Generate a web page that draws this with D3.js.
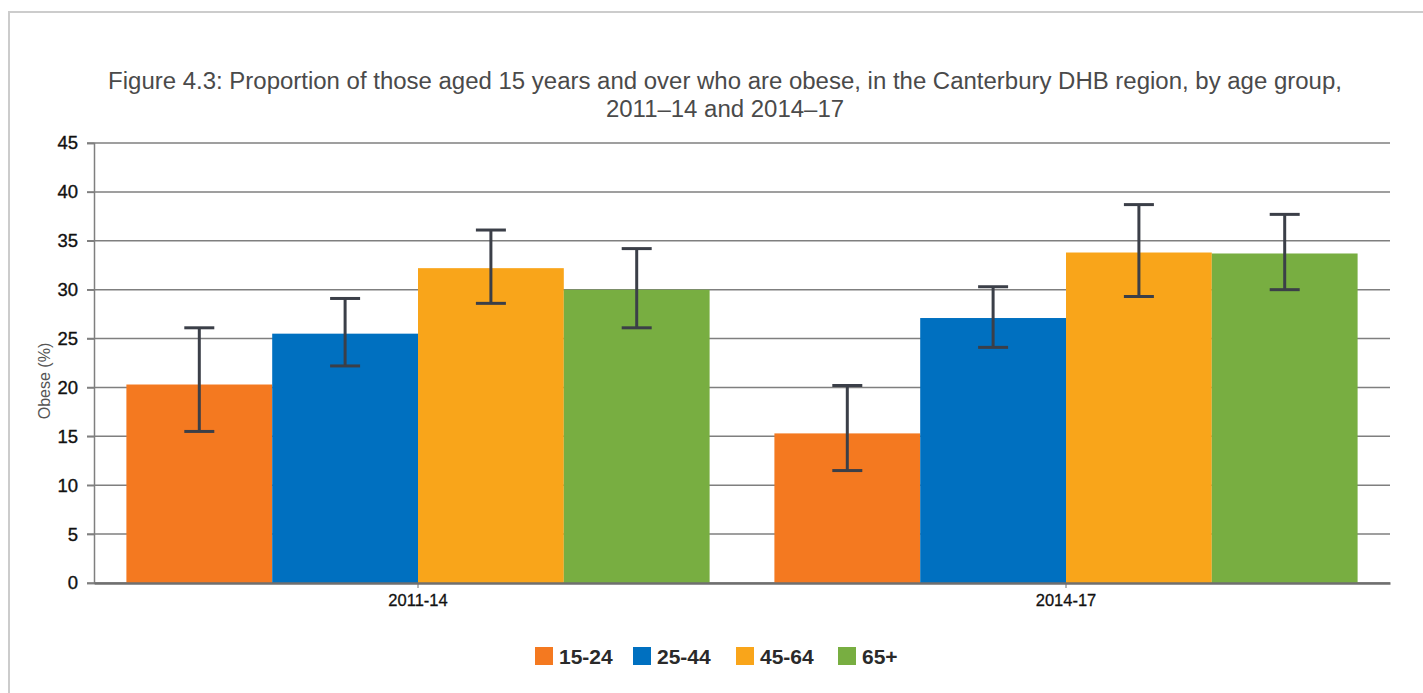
<!DOCTYPE html>
<html>
<head>
<meta charset="utf-8">
<script src="https://cdn.jsdelivr.net/npm/d3@7"></script>
<style>
  html, body { margin: 0; padding: 0; background: #fff; }
  svg { display: block; font-family: "Liberation Sans", Arial, sans-serif; }
</style>
</head>
<body>
<svg id="chart" width="1423" height="693"></svg>
<script>
const periods = ["2011-14", "2014-17"];
const ageGroups = ["15-24", "25-44", "45-64", "65+"];
const values2011 = [20.3, 25.5, 32.2, 30.0];
const values2014 = [15.3, 27.1, 33.8, 33.7];
const lower2011 = [15.5, 22.2, 28.6, 26.1];
const upper2011 = [26.1, 29.1, 36.1, 34.2];
const lower2014 = [11.5, 24.1, 29.3, 30.0];
const upper2014 = [20.2, 30.3, 38.7, 37.7];
const yTicks = [0, 5, 10, 15, 20, 25, 30, 35, 40, 45];
const colors = ["#f47920", "#0070c0", "#f9a51a", "#78ae41"];
const titleLines = ["Figure 4.3: Proportion of those aged 15 years and over who are obese, in the Canterbury DHB region, by age group,", "2011\u201314 and 2014\u201317"];
const yTitle = "Obese (%)";

const rows = [
  { period: periods[0], vals: values2011, lo: lower2011, hi: upper2011 },
  { period: periods[1], vals: values2014, lo: lower2014, hi: upper2014 }
];

const svg = d3.select("#chart");

// outer border
svg.append("rect").attr("x", 9).attr("y", 12).attr("width", 1430).attr("height", 700)
  .attr("fill", "none").attr("stroke", "#cccccc").attr("stroke-width", 2);

const pLeft = 94, pRight = 1390, pTop = 143, pBottom = 583;

const x0 = d3.scaleBand().domain(periods).range([pLeft, pRight]).paddingInner(0.1).paddingOuter(0.05);
const x1 = d3.scaleBand().domain(ageGroups).range([0, x0.bandwidth()]).padding(0);
const y = d3.scaleLinear().domain([0, 45]).range([pBottom, pTop]);
const color = d3.scaleOrdinal().domain(ageGroups).range(colors);

// title
const title = svg.append("text").attr("x", 725).attr("text-anchor", "middle")
  .attr("fill", "#4a4a4a").style("font-size", "21px");
title.selectAll("tspan").data(titleLines).join("tspan")
  .attr("x", 725).attr("y", (d, i) => 89 + i * 28).text(d => d);
const w = title.select("tspan").node().getComputedTextLength();
title.style("font-size", (21 * 1234 / w).toFixed(2) + "px");

// gridlines
svg.append("g").selectAll("line").data(yTicks).join("line")
  .attr("x1", pLeft - 7).attr("x2", pRight)
  .attr("y1", d => y(d)).attr("y2", d => y(d))
  .attr("stroke", "#7f7f7f").attr("stroke-width", 1.5);

// y axis
const yAxis = svg.append("g").attr("transform", `translate(${pLeft},0)`)
  .call(d3.axisLeft(y).tickValues(yTicks).tickSize(7).tickPadding(9));
yAxis.select(".domain").attr("stroke", "#7f7f7f").attr("stroke-width", 1.5);
yAxis.selectAll(".tick line").attr("stroke", "#7f7f7f").attr("stroke-width", 1.5);
yAxis.selectAll(".tick text").attr("fill", "#111").attr("font-size", null).style("font-size", "18.5px")
  .attr("stroke", "#111").attr("stroke-width", 0.35)
  .attr("font-family", null).style("font-family", "'Liberation Sans', Arial, sans-serif");

// y title
svg.append("text").attr("transform", "translate(50,381) rotate(-90)")
  .attr("text-anchor", "middle").attr("fill", "#555").style("font-size", "16px")
  .text(yTitle);

// bars
const groups = svg.append("g").selectAll("g").data(rows).join("g")
  .attr("transform", d => `translate(${x0(d.period)},0)`);
groups.selectAll("rect").data(d => ageGroups.map((a, i) => ({ a, v: d.vals[i] }))).join("rect")
  .attr("x", d => x1(d.a)).attr("width", x1.bandwidth())
  .attr("y", d => y(d.v)).attr("height", d => y(0) - y(d.v))
  .attr("fill", d => color(d.a));

// error bars
const eb = groups.selectAll("g.eb").data(d => ageGroups.map((a, i) => ({ a, lo: d.lo[i], hi: d.hi[i] }))).join("g")
  .attr("class", "eb")
  .attr("transform", d => `translate(${x1(d.a) + x1.bandwidth() / 2},0)`);
const ebColor = "#3b3f48";
eb.append("line").attr("x1", 0).attr("x2", 0).attr("y1", d => y(d.hi)).attr("y2", d => y(d.lo))
  .attr("stroke", ebColor).attr("stroke-width", 3);
eb.append("line").attr("x1", -15).attr("x2", 15).attr("y1", d => y(d.hi)).attr("y2", d => y(d.hi))
  .attr("stroke", ebColor).attr("stroke-width", 3);
eb.append("line").attr("x1", -15).attr("x2", 15).attr("y1", d => y(d.lo)).attr("y2", d => y(d.lo))
  .attr("stroke", ebColor).attr("stroke-width", 3);

// x axis
const xAxis = svg.append("g").attr("transform", `translate(0,${pBottom})`)
  .call(d3.axisBottom(x0).tickSize(5).tickPadding(6).tickSizeOuter(0));
xAxis.select(".domain").attr("stroke", "#6f6f6f").attr("stroke-width", 2.5);
xAxis.selectAll(".tick line").attr("stroke", "#6f6f6f");
xAxis.selectAll(".tick text").attr("fill", "#111").attr("font-size", null).style("font-size", "16.5px")
  .attr("stroke", "#111").attr("stroke-width", 0.3)
  .attr("font-family", null).style("font-family", "'Liberation Sans', Arial, sans-serif");

// legend
const legendX = [535, 633, 736, 838];
const legend = svg.append("g").selectAll("g").data(ageGroups).join("g")
  .attr("transform", (d, i) => `translate(${legendX[i]},647)`);
legend.append("rect").attr("width", 18).attr("height", 18).attr("fill", d => color(d));
legend.append("text").attr("x", 24).attr("y", 17).attr("fill", "#2a2a2a")
  .style("font-size", "21px").style("font-weight", "bold").text(d => d);
</script>
</body>
</html>
